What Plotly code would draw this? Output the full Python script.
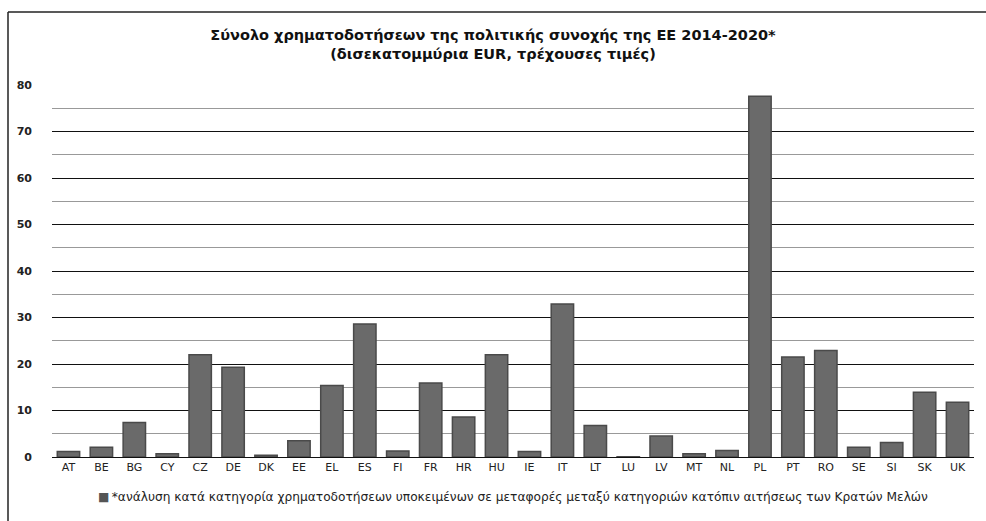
import plotly.graph_objects as go

countries = ["AT", "BE", "BG", "CY", "CZ", "DE", "DK", "EE", "EL", "ES", "FI", "FR", "HR", "HU",
             "IE", "IT", "LT", "LU", "LV", "MT", "NL", "PL", "PT", "RO", "SE", "SI", "SK", "UK"]
values = [1.2, 2.1, 7.4, 0.7, 22.0, 19.3, 0.4, 3.5, 15.4, 28.6, 1.3, 15.9, 8.6, 22.0,
          1.2, 32.9, 6.8, 0.06, 4.5, 0.7, 1.4, 77.6, 21.5, 22.9, 2.1, 3.1, 13.9, 11.8]
y_ticks = [0, 10, 20, 30, 40, 50, 60, 70, 80]

title_text = ("Σύνολο χρηματοδοτήσεων της πολιτικής συνοχής της ΕΕ 2014-2020*<br>"
              "(δισεκατομμύρια EUR, τρέχουσες τιμές)")
legend_name = ("*ανάλυση κατά κατηγορία χρηματοδοτήσεων υποκειμένων σε μεταφορές μεταξύ "
               "κατηγοριών κατόπιν αιτήσεως των Κρατών Μελών")

W, H = 986, 521
L, R, T, B = 52, 12, 85, 64
pw = W - L - R
ph = H - T - B

fig = go.Figure()
fig.add_trace(go.Bar(
    x=countries, y=values, name=legend_name,
    marker=dict(color="#6a6a6a", line=dict(color="#4a4a4a", width=1.5)),
    showlegend=False,
))

def px_x(p):
    return (p - L) / pw

def px_y(p):
    return (H - B - p) / ph

fig.update_layout(
    width=W, height=H,
    margin=dict(l=L, r=R, t=T, b=B, autoexpand=False),
    paper_bgcolor="white", plot_bgcolor="white",
    font=dict(family="DejaVu Sans", size=11, color="#222"),
    title=dict(text=title_text, x=0.5, xanchor="center", y=1 - 40 / H, yanchor="middle",
               font=dict(family="DejaVu Sans", size=14.5, color="#111", weight="bold")),
    bargap=0.32,
    showlegend=False,
    annotations=[
        dict(text='<span style="color:#555;font-size:12px">■</span>\u2009' + legend_name,
             xref="paper", yref="paper", x=px_x(513), y=px_y(497),
             xanchor="center", yanchor="middle", showarrow=False,
             font=dict(size=12.2, color="#222")),
    ],
    shapes=[
        dict(type="line", xref="paper", yref="paper", x0=px_x(8), x1=px_x(986),
             y0=px_y(12), y1=px_y(12), line=dict(color="#222", width=1.5)),
        dict(type="line", xref="paper", yref="paper", x0=px_x(8), x1=px_x(8),
             y0=px_y(12), y1=px_y(521), line=dict(color="#222", width=1.5)),
    ],
)
fig.update_xaxes(showgrid=False, showline=False, ticks="", automargin=False,
                 ticklabelstandoff=2, tickfont=dict(size=11, color="#222"))
fig.update_yaxes(range=[0, 80], tickvals=y_ticks, showgrid=True, gridcolor="#111", gridwidth=1,
                 zeroline=True, zerolinecolor="#111", zerolinewidth=1, automargin=False,
                 minor=dict(dtick=5, showgrid=True, gridcolor="#999", gridwidth=1),
                 ticks="", ticklabelstandoff=19,
                 tickfont=dict(size=11, color="#222", weight="bold"))

fig.write_html("out.html", config={"displayModeBar": False},
               post_script="document.body.style.margin='0';document.body.style.overflow='hidden';")
